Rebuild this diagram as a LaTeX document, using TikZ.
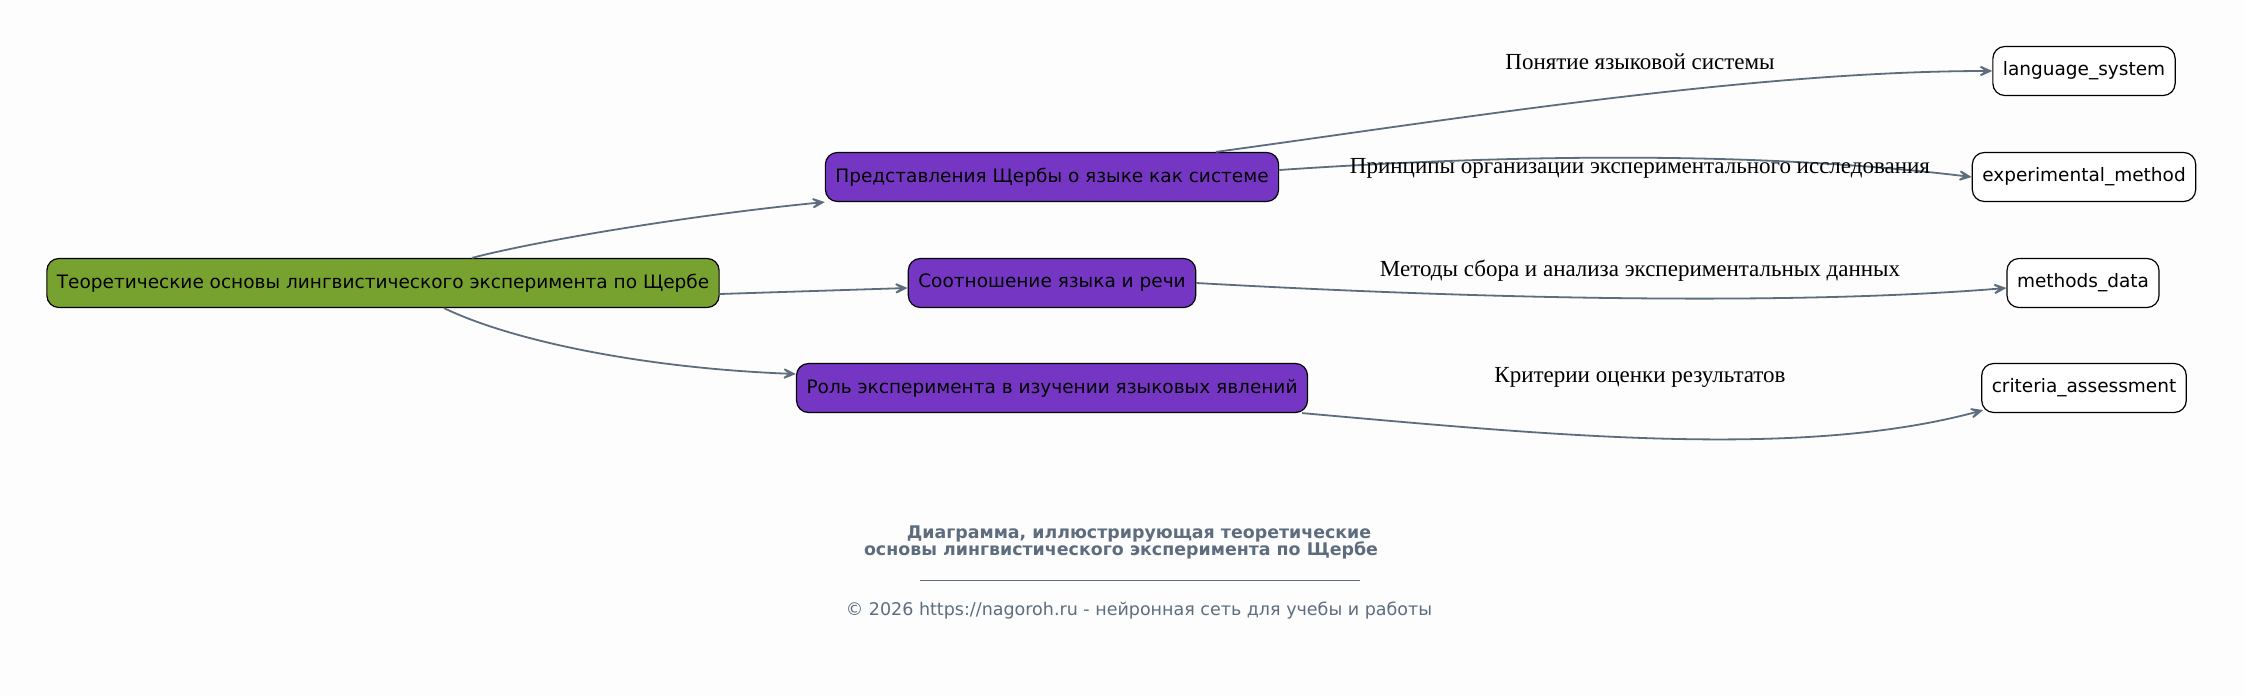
\documentclass[tikz,border=0pt]{standalone}
\usepackage{fontspec}
\setmainfont{DejaVu Sans}
\newfontfamily\labelfont{Liberation Serif}
\usepackage{xcolor}
\usepackage{tikz}
\usetikzlibrary{positioning}
\usetikzlibrary{calc}
\usetikzlibrary{arrows.meta}

\definecolor{rootgreen}{HTML}{78A22F}
\definecolor{topicviolet}{HTML}{7537C3}
\definecolor{edgegray}{HTML}{5D6D7E}
\definecolor{paper}{HTML}{FDFDFD}

\begin{document}
\begin{tikzpicture}[
    x=0.5pt, y=-0.5pt,
    box/.style={rectangle, rounded corners=6pt, draw=black, line width=0.6pt, minimum height=24.5pt, inner xsep=5pt, font=\fontsize{9.25}{11}\selectfont},
    rootbox/.style={box, fill=rootgreen},
    topicbox/.style={box, fill=topicviolet},
    leafbox/.style={box, fill=white},
    link/.style={draw=edgegray, line width=0.9pt, -{Stealth[length=10pt,width=9pt,inset=6.5pt]}},
    linklabel/.style={font=\labelfont\fontsize{11.5}{13}\selectfont},
    foot/.style={text=edgegray, font=\fontsize{8.75}{10}\selectfont}
]
\fill[paper] (0,0) rectangle (2244,696);
\useasboundingbox (0,0) rectangle (2244,696);

\node[rootbox] (0_1) at (383,283) {Теоретические основы лингвистического эксперимента по Щербе};
\node[topicbox] (1_1) at (1052,177) {Представления Щербы о языке как системе};
\node[topicbox] (1_2) at (1052,283) {Соотношение языка и речи};
\node[topicbox] (1_3) at (1052,388) {Роль эксперимента в изучении языковых явлений};
\node[leafbox] (2_1) at (2084,71) {language\_system};
\node[leafbox] (2_2) at (2084,177) {experimental\_method};
\node[leafbox] (2_3) at (2083,283) {methods\_data};
\node[leafbox] (2_4) at (2084,388) {criteria\_assessment};

\draw[link] ($(0_1.north)+(89,0)$) .. controls (540,240) and (700,214) .. (1_1.south west);
\draw[link] ($(0_1.east)+(0,11)$) -- ($(1_2.west)+(0,5)$);
\draw[link] ($(0_1.south)+(61,0)$) .. controls (510,340) and (640,368) .. ($(1_3.west)+(0,-14)$);
\draw[link] ($(1_1.north)+(164,0)$) .. controls (1450,120) and (1750,71) .. (2_1.west);
\draw[link] ($(1_1.east)+(0,-7)$) .. controls (1500,155) and (1750,150) .. (2_2.west);
\draw[link] (1_2.east) .. controls (1500,300) and (1800,305) .. ($(2_3.west)+(0,5)$);
\draw[link] ($(1_3.south east)+(-6,0)$) .. controls (1550,435) and (1800,460) .. ($(2_4.south west)+(2,-3)$);

\node[linklabel] (l1) at (1640,62) {Понятие языковой системы};
\node[linklabel] (l2) at (1640,168) {Принципы организации экспериментального исследования};
\node[linklabel] (l3) at (1640,271) {Методы сбора и анализа экспериментальных данных};
\node[linklabel] (l4) at (1640,377) {Критерии оценки результатов};

\node[foot, font=\bfseries\fontsize{8.7}{10}\selectfont] (t1) at (1139,534) {Диаграмма, иллюстрирующая теоретические};
\node[foot, font=\bfseries\fontsize{8.7}{10}\selectfont] (t2) at (1121,550) {основы лингвистического эксперимента по Щербе};
\coordinate (r1) at (920,580);
\coordinate (r2) at (1360,580);
\draw[edgegray, line width=0.5pt] (r1) -- (r2);
\node[foot] (c1) at (1139,611) {© 2026 https://nagoroh.ru - нейронная сеть для учебы и работы};
\end{tikzpicture}
\end{document}
